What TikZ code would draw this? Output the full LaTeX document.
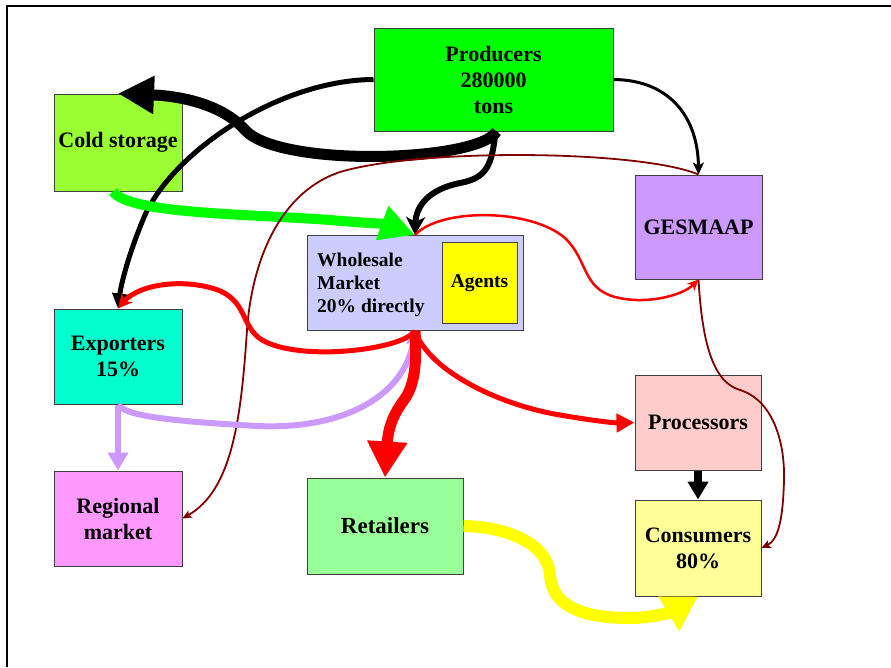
\documentclass[tikz,border=0pt]{standalone}
\usepackage{fontspec}
\setmainfont{Liberation Serif}
\usetikzlibrary{arrows.meta,calc}
\definecolor{cProd}{HTML}{00FF00}
\definecolor{cCold}{HTML}{99FF33}
\definecolor{cGes}{HTML}{CC99FF}
\definecolor{cWhole}{HTML}{CCCCFF}
\definecolor{cAgent}{HTML}{FFFF00}
\definecolor{cExp}{HTML}{00FFCC}
\definecolor{cReg}{HTML}{FF99FF}
\definecolor{cRet}{HTML}{99FF99}
\definecolor{cProc}{HTML}{FFCCCC}
\definecolor{cCons}{HTML}{FFFF99}
\definecolor{cDred}{HTML}{800000}
\definecolor{cLav}{HTML}{CC99FF}
\definecolor{cGreen}{HTML}{00FF00}
\definecolor{cYel}{HTML}{FFFF00}
\begin{document}
\begin{tikzpicture}[x=1pt,y=-1pt,
  box/.style={draw=black!75, line width=1pt, inner sep=0pt, align=center,
    font=\bfseries\fontsize{22}{26}\selectfont},
  smallbox/.style={box, font=\bfseries\fontsize{19.5}{23}\selectfont},
  flow/.style={line cap=butt}]
\useasboundingbox (0,0) rectangle (891,667);
\draw[line width=2pt] (7,667) -- (7,6) -- (891,6);

% boxes
\node[box, fill=cProd, minimum width=239pt, minimum height=103pt] (prod) at (493.5,79.5) {Producers\\280000\\tons};
\node[box, fill=cCold, minimum width=128pt, minimum height=97pt] (cold) at (118,142.5) {Cold storage};
\node[box, fill=cGes, minimum width=127pt, minimum height=104pt] (gesm) at (698.5,227) {GESMAAP};
\node[box, fill=cWhole, minimum width=216pt, minimum height=95pt] (whole) at (415,283) {};
\node[smallbox, fill=cAgent, minimum width=75pt, minimum height=81pt] (agents) at (479.5,283) {Agents};
\node[anchor=west, align=left, inner sep=0pt, font=\bfseries\fontsize{19.5}{23}\selectfont] (wtext) at (317,285) {Wholesale\\Market\\20\% directly};
\node[box, fill=cExp, minimum width=128pt, minimum height=95pt] (exp) at (118,356.5) {Exporters\\15\%};
\node[box, fill=cReg, minimum width=128pt, minimum height=95pt] (reg) at (118,518.5) {Regional\\market};
\node[box, fill=cRet, minimum width=156pt, minimum height=96pt, font=\bfseries\fontsize{23}{27}\selectfont] (ret) at (385,526) {Retailers};
\node[box, fill=cProc, minimum width=126pt, minimum height=95pt] (proc) at (698,422.5) {Processors};
\node[box, fill=cCons, minimum width=126pt, minimum height=96pt] (cons) at (698,548) {Consumers\\80\%};

% producers -> cold storage (thick black)
\draw[flow, line width=11pt, -{Triangle[length=36pt,width=36pt]}]
  ($(prod.south)+(3,0)$) .. controls (478,162) and (280,168) .. (245,130)
  .. controls (222,104) and (180,96) .. (cold.north);
% producers -> exporters
\draw[flow, line width=5pt, -{Triangle[length=15pt,width=15pt]}]
  (prod.west) .. controls (280,80) and (175,150) .. (145,215)
  .. controls (128,255) and (121,285) .. (exp.north);
% producers -> wholesale
\draw[flow, line width=6pt, -{Stealth[length=18pt,width=19pt,inset=5pt]}]
  ($(prod.south)+(2,0)$) .. controls (492,165) and (487,178) .. (460,183)
  .. controls (430,189) and (416,205) .. (whole.north);
% producers -> GESMAAP
\draw[flow, line width=3pt, -{Stealth[length=12pt,width=11pt,inset=3pt]}]
  (prod.east) .. controls (672,80) and (698,120) .. (gesm.north);
% cold storage -> wholesale (green)
\draw[flow, cGreen, line width=10pt, -{Triangle[length=35pt,width=34pt]}]
  ($(cold.south)+(-5,0)$) .. controls (128,214) and (250,214) .. (330,220)
  .. controls (365,223) and (385,224) .. (whole.north);
% GESMAAP -> regional market (dark red)
\draw[flow, cDred, line width=1.8pt, -{Stealth[length=9pt,width=8pt,inset=2pt]}]
  (gesm.north) .. controls (640,150) and (420,148) .. (340,172)
  .. controls (280,192) and (252,260) .. (247,330)
  .. controls (241,420) and (232,490) .. (reg.east);
% GESMAAP -> consumers (dark red)
\draw[flow, cDred, line width=1.8pt, -{Stealth[length=9pt,width=8pt,inset=2pt]}]
  (gesm.south) .. controls (702,340) and (712,382) .. (740,390)
  .. controls (772,400) and (785,440) .. (784,480)
  .. controls (783,520) and (778,540) .. (cons.east);
% wholesale -> GESMAAP (red)
\draw[flow, red, line width=2.5pt, -{Stealth[length=11pt,width=10pt,inset=3pt]}]
  (whole.north) .. controls (440,208) and (530,208) .. (565,238)
  .. controls (588,260) and (582,288) .. (615,297)
  .. controls (645,305) and (682,296) .. (gesm.south);
% exporters -> regional (lavender)
\draw[flow, cLav, line width=6pt, -{Triangle[length=18pt,width=20pt]}]
  (exp.south) -- (reg.north);
% exporters -> wholesale (lavender)
\draw[flow, cLav, line width=6pt, -{Stealth[length=14pt,width=14pt,inset=3pt]}]
  (exp.south) .. controls (125,416) and (170,421) .. (257,426)
  .. controls (345,430) and (405,395) .. (whole.south);
% wholesale -> exporters (red)
\draw[flow, red, line width=5pt, -{Stealth[length=14pt,width=14pt,inset=4pt]}]
  (whole.south) .. controls (402,350) and (300,362) .. (262,340)
  .. controls (240,326) and (248,300) .. (215,289)
  .. controls (180,278) and (138,285) .. (exp.north);
% wholesale -> processors (red)
\draw[flow, red, line width=5pt, -{Triangle[length=18pt,width=18pt]}]
  (whole.south) .. controls (430,372) and (500,405) .. (560,415)
  .. controls (595,421) and (615,423) .. (proc.west);
% wholesale -> retailers (thick red)
\draw[flow, red, line width=11pt, -{Triangle[length=36pt,width=38pt]}]
  (whole.south) .. controls (417,362) and (415,385) .. (404,400)
  .. controls (392,416) and (388,430) .. (ret.north);
% processors -> consumers
\draw[flow, line width=8pt, -{Triangle[length=18pt,width=20pt]}]
  (proc.south) -- (cons.north);
% retailers -> consumers (yellow)
\draw[flow, cYel, line width=12pt, -{Triangle[length=34pt,width=38pt]}]
  (ret.east) .. controls (510,527) and (548,545) .. (550,575)
  .. controls (552,605) and (580,618) .. (630,618)
  .. controls (650,618) and (672,612) .. (cons.south);
\end{tikzpicture}
\end{document}
